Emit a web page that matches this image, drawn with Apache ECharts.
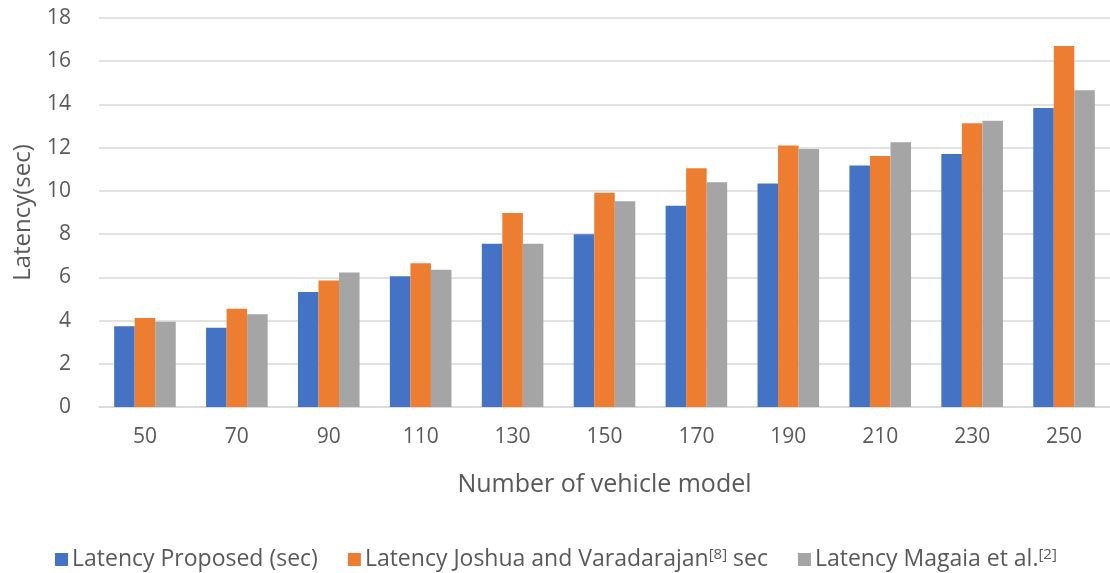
<!DOCTYPE html>
<html>
<head>
<meta charset="utf-8">
<script src="https://cdn.jsdelivr.net/npm/echarts@6/dist/echarts.min.js"></script>
<style>
html,body{margin:0;padding:0;background:#fff;}
#chart{width:1110px;height:573px;}
</style>
</head>
<body>
<div id="chart"></div>
<script>
const categories = ['50','70','90','110','130','150','170','190','210','230','250'];
const seriesNames = ['Latency Proposed (sec)', 'Latency Joshua and Varadarajan[8] sec', 'Latency Magaia et al.[2]'];
const proposed = [3.74, 3.67, 5.32, 6.05, 7.55, 7.99, 9.31, 10.34, 11.17, 11.71, 13.84];
const joshua   = [4.12, 4.55, 5.85, 6.65, 8.98, 9.91, 11.05, 12.10, 11.62, 13.13, 16.70];
const magaia   = [3.95, 4.29, 6.22, 6.35, 7.55, 9.52, 10.40, 11.94, 12.25, 13.25, 14.66];
const yTicks = { min: 0, max: 18, interval: 2 };
const colors = ['#4472C4', '#ED7D31', '#A5A5A5'];

const FONT = '"Open Sans", sans-serif';
const TXT = '#595959';
const chart = echarts.init(document.getElementById('chart'), null, { renderer: 'canvas' });

function legendFmt(name) {
  if (name === seriesNames[1]) return '{n|Latency Joshua and Varadarajan}{s|[8]}{n| sec}';
  if (name === seriesNames[2]) return '{n|Latency Magaia et al.}{s|[2]}';
  return '{n|' + name + '}';
}

chart.setOption({
  backgroundColor: '#ffffff',
  animation: false,
  color: colors,
  grid: { left: 99, right: 0, top: 18, bottom: 166, containLabel: false },
  legend: {
    left: 50,
    top: 542,
    itemWidth: 13,
    itemHeight: 13,
    itemGap: 30,
    icon: 'rect',
    formatter: legendFmt,
    textStyle: {
      fontFamily: FONT,
      color: TXT,
      fontSize: 23,
      padding: [0, 0, 0, -1],
      rich: {
        n: { fontFamily: FONT, fontSize: 23, color: TXT },
        s: { fontFamily: FONT, fontSize: 15, color: TXT, verticalAlign: 'top', padding: [0, 0, 10, 0] }
      }
    },
    data: seriesNames
  },
  xAxis: {
    type: 'category',
    data: categories,
    name: 'Number of vehicle model',
    nameLocation: 'middle',
    nameGap: 65,
    nameTextStyle: { fontFamily: FONT, fontSize: 25, color: TXT },
    axisLine: { show: true, lineStyle: { color: '#D9D9D9', width: 1.5 } },
    axisTick: { show: false },
    axisLabel: { fontFamily: FONT, fontSize: 21, color: TXT, margin: 20 }
  },
  yAxis: {
    type: 'value',
    min: yTicks.min,
    max: yTicks.max,
    interval: yTicks.interval,
    name: 'Latency(sec)',
    nameLocation: 'middle',
    nameGap: 64,
    nameRotate: 90,
    nameTextStyle: { fontFamily: FONT, fontSize: 24, color: TXT },
    axisLine: { show: false },
    axisTick: { show: false },
    axisLabel: { fontFamily: FONT, fontSize: 21, color: TXT, margin: 28 },
    splitLine: { show: true, lineStyle: { color: '#D9D9D9', width: 1.5 } }
  },
  series: [
    { name: seriesNames[0], type: 'bar', data: proposed, barGap: '0%', barCategoryGap: '33%' },
    { name: seriesNames[1], type: 'bar', data: joshua, barGap: '0%', barCategoryGap: '33%' },
    { name: seriesNames[2], type: 'bar', data: magaia, barGap: '0%', barCategoryGap: '33%' }
  ]
});
</script>
</body>
</html>
